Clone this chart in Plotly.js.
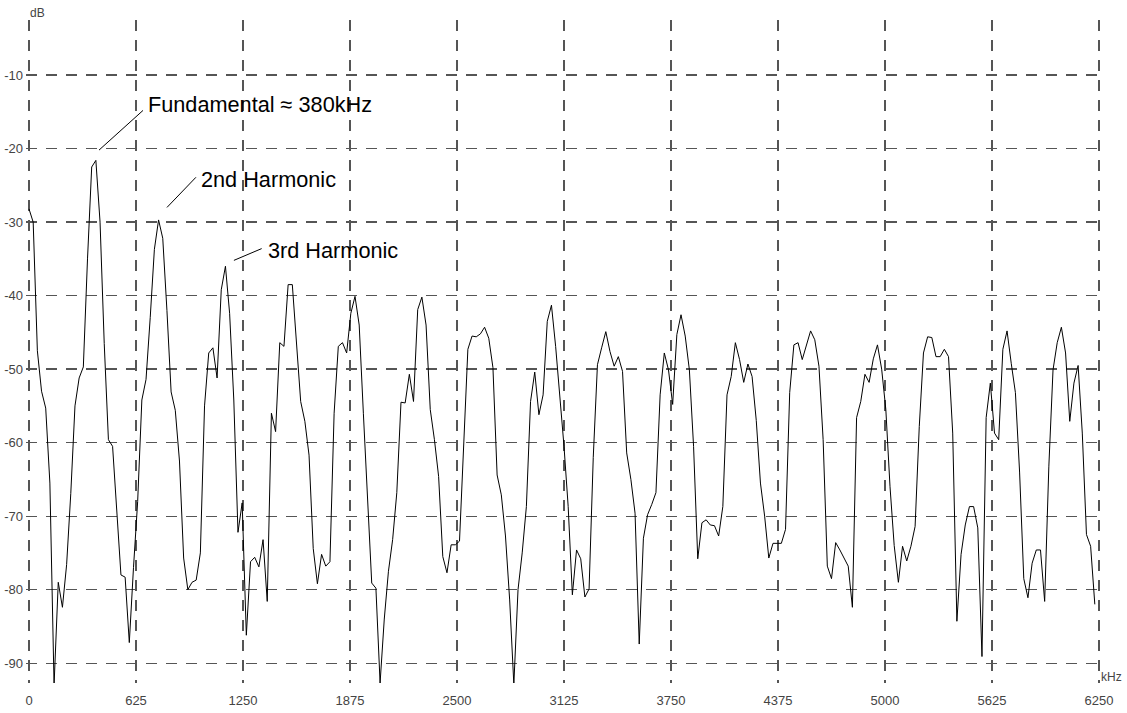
<!DOCTYPE html>
<html>
<head>
<meta charset="utf-8">
<script src="https://cdn.plot.ly/plotly-3.0.1.min.js"></script>
<style>html,body{margin:0;padding:0;background:#fff;}#chart{width:1127px;height:713px;}</style>
</head>
<body>
<div id="chart"></div>
<script>
// Spectrum magnitude (dB), one value per FFT bin, bins 0..255 over 0..6250 kHz
const binWidthKHz = 6250 / 256;
const magnitudeDb = [
  -28.2, -30, -47.5, -53, -55.3, -65.5, -93, -79, -82.4, -76.6,
  -66.9, -55, -51.2, -49.7, -35, -22.5, -21.6, -30, -46.5, -59.6,
  -60.5, -69.6, -78, -78.3, -87.2, -77, -68, -54.2, -51.4, -43,
  -33.7, -29.7, -32.2, -42, -53.1, -55.6, -62.5, -75.7, -80, -79,
  -78.7, -75, -55, -47.8, -47.1, -51.2, -39.2, -36, -42.4, -54.2,
  -72.2, -68.2, -86.2, -76.2, -75.6, -76.9, -73.2, -81.6, -56, -58.5,
  -46.4, -46.9, -38.5, -38.5, -47, -54.4, -57.1, -61.7, -74.4, -79.2,
  -75.2, -76.8, -76.2, -56, -46.9, -46.4, -47.8, -42.4, -40.1, -44,
  -56, -67.8, -79.1, -79.8, -92.7, -84, -77.5, -73.2, -66.8, -54.5,
  -54.6, -50.7, -54.4, -41.9, -40.2, -44, -55.5, -59.6, -64.6, -75.5,
  -77.7, -73.9, -73.9, -73.4, -60, -47.3, -45.5, -45.6, -45.2, -44.3,
  -45.8, -49.8, -64.4, -67.1, -72.7, -81.4, -92.9, -80, -75, -68.7,
  -54.4, -50.4, -56.2, -53.5, -43.5, -41.3, -46.9, -53.7, -60.5, -68.7,
  -80.7, -74.6, -75.8, -81, -79.9, -62, -49.4, -47.1, -44.9, -47.6,
  -49.6, -48.3, -50.3, -61.4, -65, -69.6, -87.4, -73, -69.8, -68.4,
  -66.8, -53.5, -47.8, -50.1, -54.8, -45.3, -42.6, -45.5, -50.1, -60.5,
  -75.8, -70.9, -70.5, -71.2, -71.3, -72.7, -68.7, -53.5, -51, -46.4,
  -48.7, -51.8, -49.3, -51, -57, -65.5, -70, -75.7, -73.7, -73.7,
  -73.7, -71.8, -53.2, -46.7, -46.4, -48.7, -46.9, -44.8, -46, -49.6,
  -59.6, -76.8, -78.5, -73.6, -74.6, -75.7, -76.8, -82.4, -56.6, -54.4,
  -50.7, -51.8, -48.6, -46.7, -50, -55.5, -66, -74, -79, -74.1,
  -76.1, -74.1, -71.4, -57.8, -47.8, -45.6, -45.7, -48.3, -48.3, -47.3,
  -48.3, -58.7, -84.3, -75.2, -71.2, -68.7, -68.7, -71.6, -89.1, -56.6,
  -51.9, -58.7, -59.6, -47.3, -44.8, -49.2, -53.2, -64, -78.5, -81.1,
  -76.4, -74.6, -74.6, -81.6, -63.2, -50.1, -46.4, -44.3, -47.8, -57.1,
  -51.9, -49.5, -58.7, -72.5, -74.1, -82
];
const xTickVals = [0, 625, 1250, 1875, 2500, 3125, 3750, 4375, 5000, 5625, 6250];
const xTickText = ["0", "625", "1250", "1875", "2500", "3125", "3750", "4375", "5000", "5625", "6250"];
const yTickVals = [-10, -20, -30, -40, -50, -60, -70, -80, -90];
const yTickText = ["-10", "-20", "-30", "-40", "-50", "-60", "-70", "-80", "-90"];

// Harmonic labels: pointer head (kHz, dB), pointer tail (kHz, dB), text anchor (kHz, dB)
const labelTexts = ["Fundamental \u2248 380kHz", "2nd Harmonic", "3rd Harmonic"];
const labelHeadX = [409, 806, 1197];
const labelHeadY = [-20.2, -28.0, -35.2];
const labelTailX = [666, 975, 1359];
const labelTailY = [-14.8, -23.9, -33.6];
const labelTextX = [684, 995, 1383];
const labelTextY = [-13.95, -24.2, -33.9];

const freqKHz = magnitudeDb.map((_, i) => i * binWidthKHz);

const tickFont = {family: "Liberation Sans, Arial, sans-serif", size: 13, color: "#444"};
const gridDash = "11px,9px";

const trace = {
  x: freqKHz, y: magnitudeDb, type: "scatter", mode: "lines",
  line: {color: "#000", width: 1}, hoverinfo: "x+y", cliponaxis: false
};

const shapes = labelTexts.map((_, k) => ({
  type: "line", xref: "x", yref: "y",
  x0: labelHeadX[k], y0: labelHeadY[k], x1: labelTailX[k], y1: labelTailY[k],
  line: {color: "#000", width: 1}
}));

const annotations = labelTexts.map((t, k) => ({
  text: t, xref: "x", yref: "y", x: labelTextX[k], y: labelTextY[k],
  xanchor: "left", yanchor: "middle", showarrow: false,
  font: {family: "Liberation Sans, Arial, sans-serif", size: 21.7, color: "#000"}
}));
annotations.push({text: "dB", xref: "x", yref: "paper", x: 0, y: 1, xanchor: "left", yanchor: "middle",
  yshift: 7, xshift: -1, showarrow: false, font: {family: tickFont.family, size: 12, color: "#444"}});
annotations.push({text: "kHz", xref: "x", yref: "paper", x: 6250, y: 0, xanchor: "left", yanchor: "middle",
  yshift: 6, xshift: 0, showarrow: false, font: {family: tickFont.family, size: 12, color: "#444"}});

const layout = {
  width: 1127, height: 713,
  margin: {l: 26, r: 25, t: 20, b: 30, pad: 0},
  paper_bgcolor: "#fff", plot_bgcolor: "#fff",
  showlegend: false,
  xaxis: {
    range: [-17.5, 6267.5], tickvals: xTickVals, ticktext: xTickText,
    showgrid: true, gridcolor: "#555", gridwidth: 1.3, griddash: gridDash,
    zeroline: false, showline: false, ticks: "", tickfont: tickFont,
    ticklabelstandoff: 8
  },
  yaxis: {
    range: [-92.7, -2.5], tickvals: yTickVals, ticktext: yTickText,
    showgrid: true, gridcolor: "#555", gridwidth: 1.3, griddash: gridDash,
    zeroline: false, showline: false, ticks: "", tickfont: tickFont,
    ticklabelstandoff: 2
  },
  shapes: shapes,
  annotations: annotations
};

Plotly.newPlot("chart", [trace], layout, {displayModeBar: false, staticPlot: true});
</script>
</body>
</html>
